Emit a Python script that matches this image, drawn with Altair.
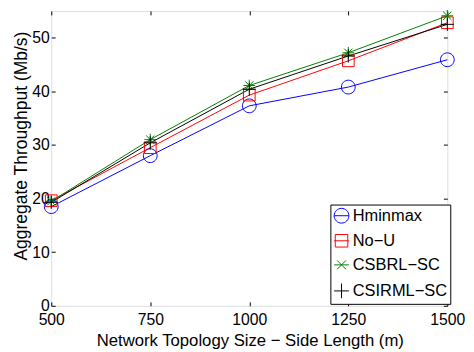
import altair as alt
import pandas as pd

SIZES = [500, 750, 1000, 1250, 1500]
SERIES = ["Hminmax", "No\u2212U", "CSBRL\u2212SC", "CSIRML\u2212SC"]
HMINMAX = [18.5, 28.0, 37.3, 40.8, 45.9]
NO_U = [19.6, 29.5, 39.3, 45.7, 52.8]
CSBRL = [19.5, 31.0, 41.1, 47.2, 54.1]
CSIRML = [19.3, 30.4, 40.4, 46.6, 52.5]
COLORS = ["#0000ff", "#ff0000", "#008000", "#000000"]
X_TICKS = [500, 750, 1000, 1250, 1500]
Y_TICKS = [0, 10, 20, 30, 40, 50]

MARKERS = [
    "M-1,0A1,1,0,1,1,1,0A1,1,0,1,1,-1,0Z",
    "M-0.85,-0.85H0.85V0.85H-0.85Z",
    "M-0.85,0H0.85M0,-0.85V0.85M-0.6,-0.6L0.6,0.6M-0.6,0.6L0.6,-0.6",
    "M-0.95,0H0.95M0,-0.95V0.95",
]
LEGEND_MARKERS = [
    "M-1,0A1,1,0,1,1,1,0A1,1,0,1,1,-1,0ZM-1,0H1",
    "M-0.85,-0.85H0.85V0.85H-0.85ZM-1,0H1",
    "M-1,0H1M-0.6,-0.6L0.6,0.6M-0.6,0.6L0.6,-0.6",
    "M-1,0H1M0,-1V1",
]

values = [HMINMAX, NO_U, CSBRL, CSIRML]
rows = []
for s, vals in zip(SERIES, values):
    for x, y in zip(SIZES, vals):
        rows.append({"series": s, "size": x, "thr": y})
df = pd.DataFrame(rows)

FONT = "Liberation Sans"
W, H = 403, 300

xscale = alt.Scale(domain=[500, 1500], nice=False, zero=False)
yscale = alt.Scale(domain=[0, 55], nice=False)

base = alt.Chart(df)

x_label_axis = alt.Axis(values=X_TICKS, orient="bottom", tickSize=0, domain=False, grid=False,
                        format="d",
                        labelFont=FONT, labelFontSize=16, labelColor="black", labelPadding=6,
                        labelFlush=False, labelBaseline="top",
                        title="Network Topology Size \u2212 Side Length (m)",
                        titleFont=FONT, titleFontSize=17, titleFontWeight="normal", titleColor="black",
                        titleX=202, titleY=40, titleBaseline="alphabetic", labelOverlap=False)
y_label_axis = alt.Axis(values=Y_TICKS, orient="left", tickSize=0, domain=False, grid=False,
                        format="d",
                        labelFont=FONT, labelFontSize=16, labelColor="black", labelPadding=2,
                        title="Aggregate Throughput (Mb/s)", titleFont=FONT, titleFontSize=17.8,
                        titleFontWeight="normal", titleColor="black", titleX=-25, titleY=137,
                        titleBaseline="alphabetic", labelOverlap=False)


def tick_axis(vals, orient):
    return alt.Axis(values=vals, orient=orient, offset=-4, tickSize=4, tickColor="black",
                    tickWidth=1, labels=False, domain=False, grid=False, title=None)


def make_legend():
    return alt.Legend(orient="none", legendX=284, legendY=197, title=None,
                      labelFont=FONT, labelFontSize=16.7, labelColor="black",
                      symbolSize=225, symbolStrokeWidth=1, symbolOpacity=1,
                      labelOffset=3, rowPadding=6.5, padding=3,
                      strokeColor="black", fillColor="white", cornerRadius=0)


lines = base.mark_line(strokeWidth=1).encode(
    x=alt.X("size:Q", scale=xscale, axis=x_label_axis),
    y=alt.Y("thr:Q", scale=yscale, axis=y_label_axis),
    color=alt.Color("series:N", scale=alt.Scale(domain=SERIES, range=COLORS), legend=None),
    detail="series:N",
)

points = base.mark_point(filled=False, size=196, strokeWidth=1, opacity=1).encode(
    x=alt.X("size:Q", scale=xscale, axis=tick_axis(X_TICKS, "bottom")),
    y=alt.Y("thr:Q", scale=yscale, axis=tick_axis(Y_TICKS, "left")),
    color=alt.Color("series:N", scale=alt.Scale(domain=SERIES, range=COLORS), legend=None),
    shape=alt.Shape("series:N", scale=alt.Scale(domain=SERIES, range=MARKERS), legend=None),
)

legend_layer = base.mark_point(filled=False, size=196, strokeWidth=1, opacity=0).encode(
    x=alt.X("size:Q", scale=xscale, axis=tick_axis(X_TICKS, "top")),
    y=alt.Y("thr:Q", scale=yscale, axis=tick_axis(Y_TICKS, "right")),
    color=alt.Color("series:N", scale=alt.Scale(domain=SERIES, range=COLORS),
                    legend=make_legend()),
    shape=alt.Shape("series:N", scale=alt.Scale(domain=SERIES, range=LEGEND_MARKERS),
                    legend=make_legend()),
)

chart = alt.layer(lines, points, legend_layer).resolve_scale(
    shape="independent", color="independent"
).resolve_axis(
    x="independent", y="independent"
).properties(
    width=W, height=H,
    autosize=alt.AutoSizeParams(type="none"),
    padding={"left": 44, "top": 0, "right": 19, "bottom": 44},
).configure_view(
    stroke="black", strokeWidth=1
).configure(background="white")

chart.save("out.html", embed_options={"renderer": "svg", "actions": False})
